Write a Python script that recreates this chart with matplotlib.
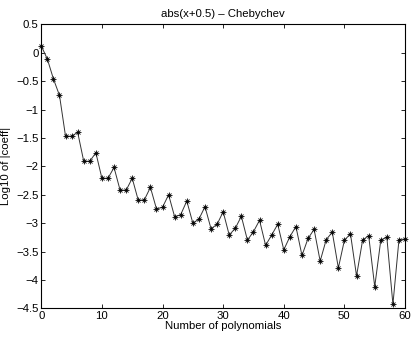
import numpy as np
import matplotlib
matplotlib.use("Agg")
import matplotlib.pyplot as plt
from matplotlib.ticker import FuncFormatter

plt.rcParams['font.family'] = ['Liberation Sans', 'DejaVu Sans']

n_poly = np.arange(0, 61)
log_coeff = [0.12, -0.11, -0.46, -0.75, -1.47, -1.47, -1.40, -1.91, -1.91, -1.76,
             -2.21, -2.21, -2.02, -2.42, -2.42, -2.21, -2.60, -2.59, -2.37, -2.75,
             -2.72, -2.50, -2.89, -2.85, -2.61, -3.00, -2.93, -2.71, -3.10, -3.02,
             -2.80, -3.21, -3.09, -2.88, -3.30, -3.15, -2.95, -3.39, -3.21, -3.02,
             -3.47, -3.24, -3.06, -3.57, -3.27, -3.11, -3.67, -3.29, -3.16, -3.79,
             -3.30, -3.19, -3.93, -3.30, -3.22, -4.12, -3.30, -3.25, -4.43, -3.29,
             -3.28]

fs = 8.2

fig = plt.figure(figsize=(4.15, 3.39), dpi=100)
ax = fig.add_axes([0.0995, 0.0906, 0.8765, 0.8374])

# line, then matlab-like asterisk markers (plus + cross)
ax.plot(n_poly, log_coeff, '-', color='#333333', lw=0.7)
ax.plot(n_poly, log_coeff, '+', color='k', ms=4.0, mew=0.6, clip_on=False)
ax.plot(n_poly, log_coeff, 'x', color='k', ms=2.9, mew=0.6, clip_on=False)

ax.set_xlim(0, 60)
ax.set_ylim(-4.5, 0.5)
ax.set_xticks(np.arange(0, 61, 10))
ax.set_yticks(np.arange(-4.5, 0.51, 0.5))
ax.yaxis.set_major_formatter(FuncFormatter(
    lambda v, p: ('%g' % v).replace('-', '\u2212')))
ax.tick_params(direction='in', top=True, right=True, length=3, width=0.6,
               labelsize=fs, pad=2)
for s in ax.spines.values():
    s.set_linewidth(0.8)

ax.set_title('abs(x+0.5) \u2013 Chebychev', fontsize=fs, pad=5)
ax.set_xlabel('Number of polynomials', fontsize=fs, labelpad=0)
ax.set_ylabel('Log10 of |coeff|', fontsize=fs, labelpad=4)

fig.savefig('out.png', dpi=100)
